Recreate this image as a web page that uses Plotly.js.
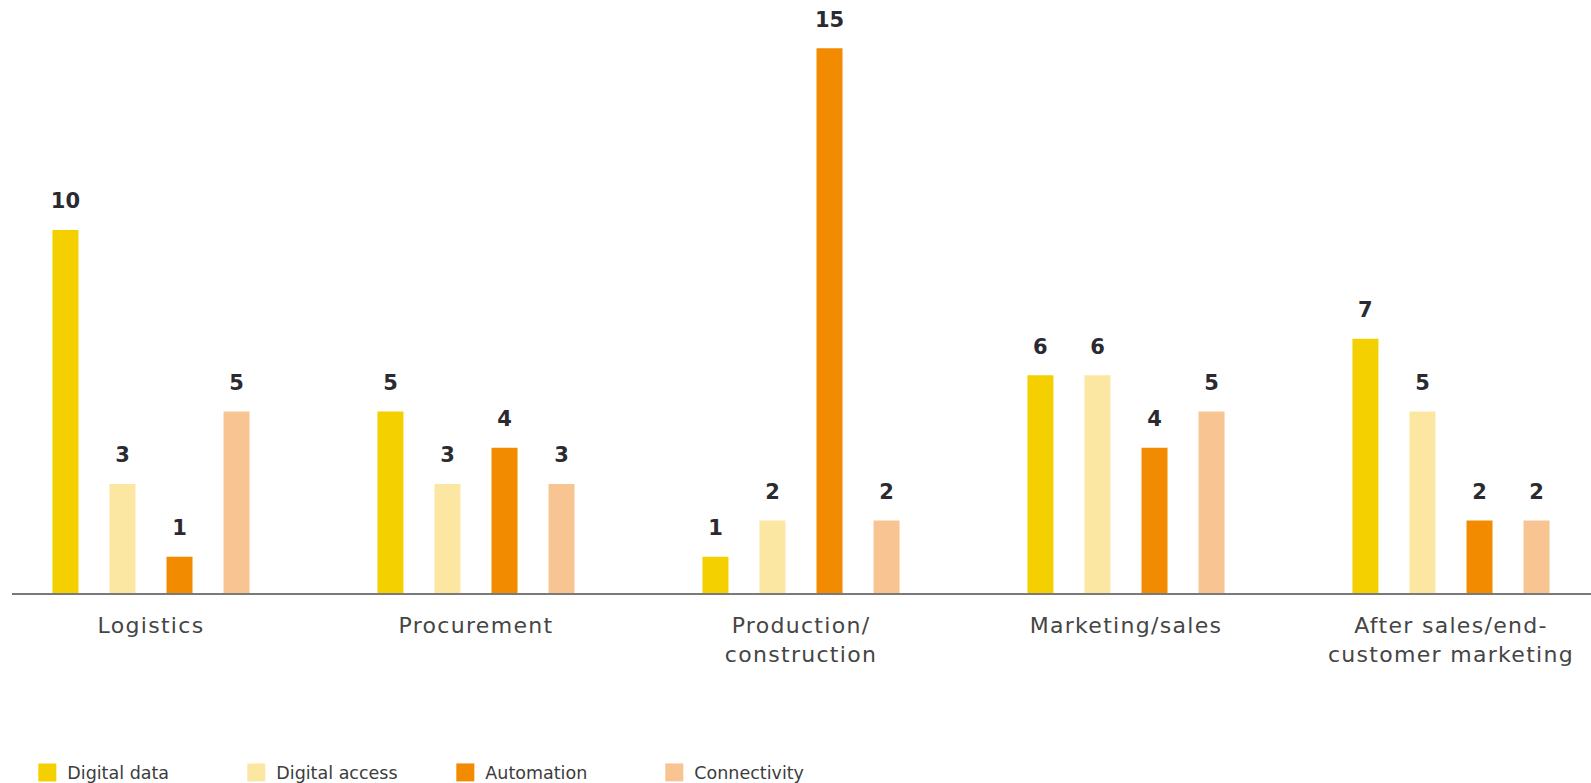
<!DOCTYPE html>
<html><head><meta charset="utf-8">
<script src="https://cdn.plot.ly/plotly-3.0.1.min.js"></script>
<style>html,body{margin:0;padding:0;background:#fff}#chart{width:1591px;height:783px}
#chart .xtick text{letter-spacing:1.3px}</style>
</head><body><div id="chart"></div>
<script>
const categories = ["Logistics", "Procurement", "Production/<br>construction", "Marketing/sales", "After sales/end-<br>customer marketing"];
const seriesNames = ["Digital data", "Digital access", "Automation", "Connectivity"];
const digitalData = [10, 5, 1, 6, 7];
const digitalAccess = [3, 3, 2, 6, 5];
const automation = [1, 4, 15, 4, 2];
const connectivity = [5, 3, 2, 5, 2];
const colors = ["#F5D000", "#FCE7A2", "#F28B00", "#F8C592"];

const xs = categories.map((c, i) => i);
const seriesValues = [digitalData, digitalAccess, automation, connectivity];
const traces = seriesValues.map((vals, k) => ({
  type: "bar", name: seriesNames[k], x: xs, y: vals,
  marker: {color: colors[k]},
  text: vals.map(v => '<span style="font-size:21px">' + v + '</span><br> '),
  textposition: "outside", cliponaxis: false, constraintext: "none",
  textfont: {family: "DejaVu Sans, sans-serif", size: 12, color: "#2a2a30", weight: 700},
  hoverinfo: "skip"
}));

const layout = {
  width: 1591, height: 783,
  margin: {l: 12, r: 0, t: 12, b: 190, autoexpand: false},
  paper_bgcolor: "#fff", plot_bgcolor: "#fff",
  barmode: "group", bargap: 0.298, bargroupgap: 0.544,
  xaxis: {
    range: [-0.4277, 4.4308], tickvals: xs, ticktext: categories,
    showgrid: false, zeroline: false, showline: true, linecolor: "#7a7a7a", linewidth: 2,
    ticks: "", ticklabelstandoff: 12, automargin: false,
    tickfont: {family: "DejaVu Sans, sans-serif", size: 22, color: "#454545"},
    fixedrange: true
  },
  yaxis: {range: [0, 16], visible: false, showgrid: false, zeroline: false, fixedrange: true},
  showlegend: true,
  legend: {
    orientation: "h", x: 0.0097, xanchor: "left", y: -0.309, yanchor: "middle",
    yref: "paper", entrywidth: 164, entrywidthmode: "pixels",
    font: {family: "DejaVu Sans, sans-serif", size: 17.5, color: "#3c3c3c"},
    itemclick: false, itemdoubleclick: false
  }
};
Plotly.newPlot("chart", traces, layout, {displayModeBar: false, staticPlot: true}).then(gd => {
  gd.querySelectorAll(".legend .legendpoints path").forEach(p => {
    const t = p.getAttribute("transform") || "";
    p.setAttribute("transform", t + " scale(1.5)");
  });
});
</script></body></html>
